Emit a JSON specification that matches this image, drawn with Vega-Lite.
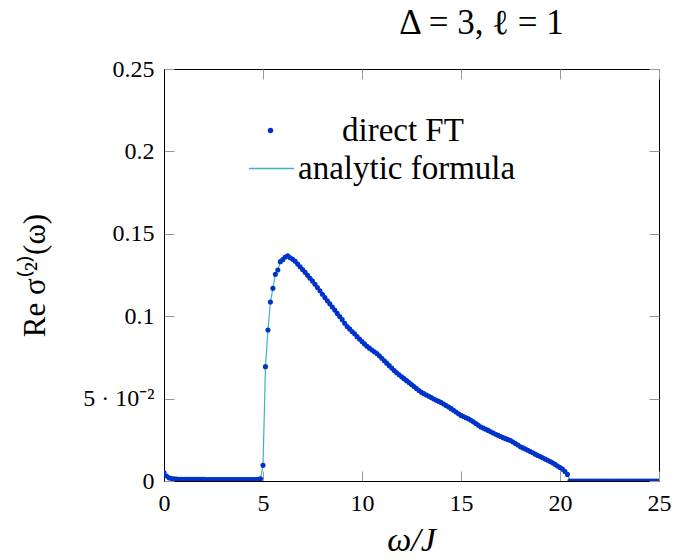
{
  "$schema": "https://vega.github.io/schema/vega-lite/v6.json",
  "autosize": "none",
  "width": 495,
  "height": 412,
  "padding": {"left": 164, "top": 69, "right": 17, "bottom": 79},
  "background": "white",
  "title": {"text": "Δ = 3, ℓ = 1", "frame": "group", "anchor": "middle", "dx": 70, "offset": 16, "font": "'Liberation Serif', serif", "fontSize": 35, "fontWeight": "normal", "color": "black"},
  "config": {
    "view": {"stroke": "black", "strokeWidth": 1},
    "axis": {"labelFont": "'Liberation Serif', serif", "labelFontSize": 24, "labelColor": "black", "labelFlush": false, "titleFont": "'Liberation Serif', serif", "titleFontSize": 31, "titleFontWeight": "normal", "titleColor": "black", "domainColor": "black", "tickColor": "#999999", "tickSize": -10, "grid": false},
    "legend": {"labelFont": "'Liberation Serif', serif", "labelFontSize": 33, "labelColor": "black", "labelLimit": 500, "padding": 0}
  },
  "data": {"values": [
    {"w": 0, "s": 0.0052}, {"w": 0.125, "s": 0.0030}, {"w": 0.25, "s": 0.0019}, {"w": 0.375, "s": 0.0015},
    {"w": 0.5, "s": 0.0013}, {"w": 0.625, "s": 0.0012}, {"w": 0.75, "s": 0.0011}, {"w": 0.875, "s": 0.0011},
    {"w": 1, "s": 0.0010}, {"w": 1.125, "s": 0.0010}, {"w": 1.25, "s": 0.0010}, {"w": 1.375, "s": 0.0010},
    {"w": 1.5, "s": 0.0010}, {"w": 1.625, "s": 0.0010}, {"w": 1.75, "s": 0.0010}, {"w": 1.875, "s": 0.0010},
    {"w": 2, "s": 0.0010}, {"w": 2.125, "s": 0.0009}, {"w": 2.25, "s": 0.0009}, {"w": 2.375, "s": 0.0009},
    {"w": 2.5, "s": 0.0009}, {"w": 2.625, "s": 0.0009}, {"w": 2.75, "s": 0.0009}, {"w": 2.875, "s": 0.0009},
    {"w": 3, "s": 0.0009}, {"w": 3.125, "s": 0.0009}, {"w": 3.25, "s": 0.0009}, {"w": 3.375, "s": 0.0009},
    {"w": 3.5, "s": 0.0009}, {"w": 3.625, "s": 0.0009}, {"w": 3.75, "s": 0.0009}, {"w": 3.875, "s": 0.0009},
    {"w": 4, "s": 0.0009}, {"w": 4.125, "s": 0.0009}, {"w": 4.25, "s": 0.0009}, {"w": 4.375, "s": 0.0009},
    {"w": 4.5, "s": 0.0009}, {"w": 4.625, "s": 0.0009}, {"w": 4.75, "s": 0.0010}, {"w": 4.875, "s": 0.0013},
    {"w": 5, "s": 0.0095}, {"w": 5.125, "s": 0.0694}, {"w": 5.25, "s": 0.0916}, {"w": 5.375, "s": 0.1086},
    {"w": 5.5, "s": 0.1169}, {"w": 5.625, "s": 0.1254}, {"w": 5.75, "s": 0.1280}, {"w": 5.875, "s": 0.1331},
    {"w": 6, "s": 0.1343}, {"w": 6.125, "s": 0.1359}, {"w": 6.25, "s": 0.1366}, {"w": 6.375, "s": 0.1355},
    {"w": 6.5, "s": 0.1345}, {"w": 6.625, "s": 0.1333}, {"w": 6.75, "s": 0.1316}, {"w": 6.875, "s": 0.1300},
    {"w": 7, "s": 0.1283}, {"w": 7.125, "s": 0.1266}, {"w": 7.25, "s": 0.1248}, {"w": 7.375, "s": 0.1230},
    {"w": 7.5, "s": 0.1213}, {"w": 7.625, "s": 0.1194}, {"w": 7.75, "s": 0.1174}, {"w": 7.875, "s": 0.1154},
    {"w": 8, "s": 0.1133}, {"w": 8.125, "s": 0.1113}, {"w": 8.25, "s": 0.1093}, {"w": 8.375, "s": 0.1075},
    {"w": 8.5, "s": 0.1056}, {"w": 8.625, "s": 0.1037}, {"w": 8.75, "s": 0.1017}, {"w": 8.875, "s": 0.0998},
    {"w": 9, "s": 0.0979}, {"w": 9.125, "s": 0.0957}, {"w": 9.25, "s": 0.0937}, {"w": 9.375, "s": 0.0923},
    {"w": 9.5, "s": 0.0907}, {"w": 9.625, "s": 0.0893}, {"w": 9.75, "s": 0.0876}, {"w": 9.875, "s": 0.0861},
    {"w": 10, "s": 0.0846}, {"w": 10.125, "s": 0.0832}, {"w": 10.25, "s": 0.0818}, {"w": 10.375, "s": 0.0806},
    {"w": 10.5, "s": 0.0795}, {"w": 10.625, "s": 0.0784}, {"w": 10.75, "s": 0.0774}, {"w": 10.875, "s": 0.0760},
    {"w": 11, "s": 0.0745}, {"w": 11.125, "s": 0.0730}, {"w": 11.25, "s": 0.0715}, {"w": 11.375, "s": 0.0700},
    {"w": 11.5, "s": 0.0685}, {"w": 11.625, "s": 0.0670}, {"w": 11.75, "s": 0.0657}, {"w": 11.875, "s": 0.0645},
    {"w": 12, "s": 0.0632}, {"w": 12.125, "s": 0.0621}, {"w": 12.25, "s": 0.0609}, {"w": 12.375, "s": 0.0597},
    {"w": 12.5, "s": 0.0585}, {"w": 12.625, "s": 0.0573}, {"w": 12.75, "s": 0.0561}, {"w": 12.875, "s": 0.0549},
    {"w": 13, "s": 0.0538}, {"w": 13.125, "s": 0.0530}, {"w": 13.25, "s": 0.0522}, {"w": 13.375, "s": 0.0514},
    {"w": 13.5, "s": 0.0506}, {"w": 13.625, "s": 0.0498}, {"w": 13.75, "s": 0.0490}, {"w": 13.875, "s": 0.0483},
    {"w": 14, "s": 0.0476}, {"w": 14.125, "s": 0.0467}, {"w": 14.25, "s": 0.0458}, {"w": 14.375, "s": 0.0449},
    {"w": 14.5, "s": 0.0439}, {"w": 14.625, "s": 0.0429}, {"w": 14.75, "s": 0.0419}, {"w": 14.875, "s": 0.0408},
    {"w": 15, "s": 0.0398}, {"w": 15.125, "s": 0.0391}, {"w": 15.25, "s": 0.0384}, {"w": 15.375, "s": 0.0377},
    {"w": 15.5, "s": 0.0369}, {"w": 15.625, "s": 0.0359}, {"w": 15.75, "s": 0.0349}, {"w": 15.875, "s": 0.0338},
    {"w": 16, "s": 0.0328}, {"w": 16.125, "s": 0.0321}, {"w": 16.25, "s": 0.0314}, {"w": 16.375, "s": 0.0307},
    {"w": 16.5, "s": 0.0299}, {"w": 16.625, "s": 0.0291}, {"w": 16.75, "s": 0.0284}, {"w": 16.875, "s": 0.0277},
    {"w": 17, "s": 0.0270}, {"w": 17.125, "s": 0.0263}, {"w": 17.25, "s": 0.0257}, {"w": 17.375, "s": 0.0251},
    {"w": 17.5, "s": 0.0245}, {"w": 17.625, "s": 0.0237}, {"w": 17.75, "s": 0.0228}, {"w": 17.875, "s": 0.0218},
    {"w": 18, "s": 0.0208}, {"w": 18.125, "s": 0.0201}, {"w": 18.25, "s": 0.0194}, {"w": 18.375, "s": 0.0187},
    {"w": 18.5, "s": 0.0179}, {"w": 18.625, "s": 0.0171}, {"w": 18.75, "s": 0.0163}, {"w": 18.875, "s": 0.0155},
    {"w": 19, "s": 0.0148}, {"w": 19.125, "s": 0.0141}, {"w": 19.25, "s": 0.0133}, {"w": 19.375, "s": 0.0126},
    {"w": 19.5, "s": 0.0118}, {"w": 19.625, "s": 0.0110}, {"w": 19.75, "s": 0.0101}, {"w": 19.875, "s": 0.0091},
    {"w": 20, "s": 0.0082}, {"w": 20.125, "s": 0.0072}, {"w": 20.25, "s": 0.0058}, {"w": 20.375, "s": 0.0040},
    {"w": 20.5, "s": 0}, {"w": 20.625, "s": 0}, {"w": 20.75, "s": 0}, {"w": 20.875, "s": 0},
    {"w": 21, "s": 0}, {"w": 21.125, "s": 0}, {"w": 21.25, "s": 0}, {"w": 21.375, "s": 0},
    {"w": 21.5, "s": 0}, {"w": 21.625, "s": 0}, {"w": 21.75, "s": 0}, {"w": 21.875, "s": 0},
    {"w": 22, "s": 0}, {"w": 22.125, "s": 0}, {"w": 22.25, "s": 0}, {"w": 22.375, "s": 0},
    {"w": 22.5, "s": 0}, {"w": 22.625, "s": 0}, {"w": 22.75, "s": 0}, {"w": 22.875, "s": 0},
    {"w": 23, "s": 0}, {"w": 23.125, "s": 0}, {"w": 23.25, "s": 0}, {"w": 23.375, "s": 0},
    {"w": 23.5, "s": 0}, {"w": 23.625, "s": 0}, {"w": 23.75, "s": 0}, {"w": 23.875, "s": 0},
    {"w": 24, "s": 0}, {"w": 24.125, "s": 0}, {"w": 24.25, "s": 0}, {"w": 24.375, "s": 0},
    {"w": 24.5, "s": 0}, {"w": 24.625, "s": 0}, {"w": 24.75, "s": 0}, {"w": 24.875, "s": 0},
    {"w": 25, "s": 0}
  ]},
  "layer": [
    {
      "mark": {"type": "line", "strokeWidth": 1.2, "clip": true},
      "encoding": {
        "x": {"field": "w", "type": "quantitative", "scale": {"domain": [0, 25], "nice": false},
              "axis": {"orient": "top", "values": [0, 5, 10, 15, 20, 25], "labels": false, "title": null, "domain": false}},
        "y": {"field": "s", "type": "quantitative", "scale": {"domain": [0, 0.25], "nice": false},
              "axis": {"orient": "right", "values": [0, 0.05, 0.1, 0.15, 0.2, 0.25], "labels": false, "title": null, "domain": false}},
        "stroke": {"datum": "analytic formula", "scale": {"range": ["#3db3c3"]},
                   "legend": {"orient": "none", "legendX": 84, "legendY": 76, "title": null, "symbolType": "stroke", "symbolSize": 2025, "symbolStrokeWidth": 1.5, "labelOffset": 3}}
      }
    },
    {
      "mark": {"type": "point", "filled": true, "shape": "circle", "size": 26, "opacity": 1, "clip": true},
      "encoding": {
        "x": {"field": "w", "type": "quantitative", "scale": {"domain": [0, 25], "nice": false},
              "axis": {"orient": "bottom", "values": [0, 5, 10, 15, 20, 25], "format": "d", "labelPadding": 20, "title": "ω/J", "titleFontStyle": "italic", "titleFontSize": 34, "titleX": 247, "titleY": 59, "titleBaseline": "middle", "titleAlign": "center"}},
        "y": {"field": "s", "type": "quantitative", "scale": {"domain": [0, 0.25], "nice": false},
              "axis": {"orient": "left", "values": [0, 0.05, 0.1, 0.15, 0.2, 0.25], "format": "~g", "labelExpr": "datum.value === 0.05 ? '5 · 10⁻²' : datum.label", "labelPadding": 20, "title": "Re σ⁽²⁾(ω)", "titleX": -129, "titleY": 206, "titleBaseline": "middle", "titleAlign": "center", "titleAngle": -90}},
        "fill": {"datum": "direct FT", "scale": {"range": ["#0033cc"]},
                 "legend": {"orient": "none", "legendX": 90, "legendY": 45, "title": null, "symbolType": "circle", "symbolSize": 30, "labelOffset": 55}}
      }
    }
  ],
  "resolve": {"axis": {"x": "independent", "y": "independent"}}
}
